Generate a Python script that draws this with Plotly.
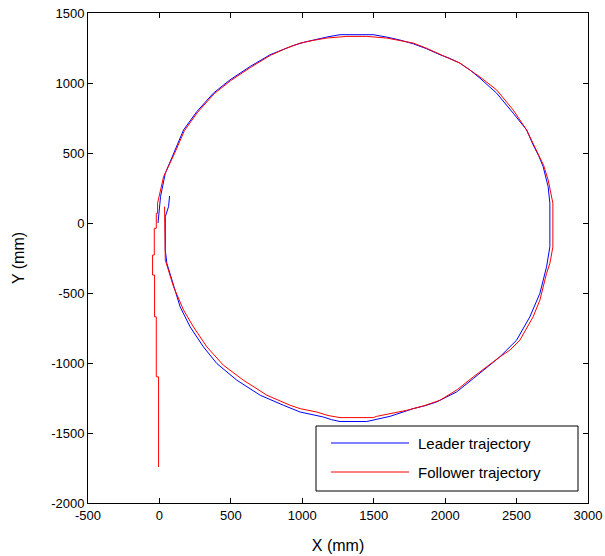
import plotly.graph_objects as go

# Leader trajectory (mm)
leader_x = [-10, 0, 8, 41, 99, 169, 262, 378, 495, 635, 775, 938, 1020, 1101, 1180, 1264, 1496,
            1591, 1680, 1777, 1870, 1964, 2035, 2103, 2175, 2243, 2360, 2476, 2570, 2616, 2655,
            2686, 2721, 2733, 2733, 2710, 2663, 2593, 2500, 2383, 2290, 2197, 2080, 1941, 1860,
            1777, 1614, 1497, 1451, 1264, 1205, 1148, 985, 868, 705, 542, 402, 308, 215, 145, 87,
            52, 41, 41, 64, 71]
leader_y = [0, 110, 190, 355, 499, 665, 796, 928, 1023, 1118, 1202, 1268, 1293, 1314, 1330, 1345,
            1345, 1328, 1308, 1280, 1245, 1202, 1175, 1142, 1092, 1035, 928, 785, 665, 558, 480,
            403, 260, 141, -170, -313, -503, -670, -837, -956, -1036, -1111, -1207, -1278, -1305,
            -1326, -1381, -1404, -1418, -1418, -1405, -1386, -1350, -1302, -1230, -1123, -1004,
            -885, -742, -599, -408, -288, -193, 45, 117, 193]

# Follower trajectory (mm)
follower_x = [-6, -6, -22, -22, -34, -34, -48, -48, -36, -36, -22, -22, -13, -13, 29, 105, 175,
              268, 384, 500, 640, 778, 880, 985, 1080, 1171, 1311, 1451, 1591, 1777, 1870, 1964,
              2035, 2103, 2180, 2255, 2360, 2418, 2476, 2570, 2628, 2660, 2690, 2721, 2745, 2754,
              2754, 2733, 2710, 2663, 2616, 2523, 2453, 2383, 2197, 2085, 1964, 1850, 1731, 1614,
              1521, 1497, 1264, 1180, 1101, 985, 915, 752, 588, 448, 332, 238, 169, 99, 52, 41, 36]
follower_y = [-1743, -1099, -1099, -670, -670, -372, -372, -229, -229, -38, -38, 69, 69, 141, 331,
              495, 660, 792, 924, 1018, 1113, 1198, 1245, 1285, 1305, 1321, 1333, 1333, 1321, 1285,
              1248, 1202, 1172, 1142, 1090, 1035, 951, 880, 808, 665, 546, 480, 410, 308, 165, 142,
              -172, -288, -360, -551, -670, -837, -908, -956, -1099, -1190, -1266, -1306, -1338,
              -1361, -1381, -1390, -1390, -1375, -1350, -1326, -1302, -1230, -1123, -1016, -885,
              -742, -622, -456, -313, -265, 117]

x_ticks = [-500, 0, 500, 1000, 1500, 2000, 2500, 3000]
y_ticks = [-2000, -1500, -1000, -500, 0, 500, 1000, 1500]
legend_names = ["Leader trajectory", "Follower trajectory"]

FONT = "Liberation Sans, Arial, sans-serif"

fig = go.Figure()
fig.add_trace(go.Scatter(x=leader_x, y=leader_y, mode="lines", name=legend_names[0],
                         line=dict(color="#0000ff", width=1), showlegend=False))
fig.add_trace(go.Scatter(x=follower_x, y=follower_y, mode="lines", name=legend_names[1],
                         line=dict(color="#ff0000", width=1), showlegend=False))

axis_common = dict(showgrid=False, zeroline=False, showline=True, linecolor="black",
                   linewidth=1, mirror="ticks", ticks="inside", ticklen=5, tickcolor="black",
                   automargin=False,
                   tickfont=dict(family=FONT, size=13, color="black"))

fig.update_layout(
    width=605, height=556,
    margin=dict(l=88, r=17, t=13, b=53, autoexpand=False),
    paper_bgcolor="white", plot_bgcolor="white",
    xaxis=dict(range=[-500, 3000], tickvals=x_ticks, ticktext=[str(v) for v in x_ticks],
               title=dict(text="X (mm)", font=dict(family=FONT, size=16, color="black"), standoff=18),
               **axis_common),
    yaxis=dict(range=[-2000, 1500], tickvals=y_ticks, ticktext=[str(v) for v in y_ticks],
               title=dict(text="Y (mm)", font=dict(family=FONT, size=16, color="black"), standoff=22),
               **axis_common),
)

# Legend box (MATLAB style)
def px2paper_x(px):
    return (px - 88) / 500.0

def px2paper_y(py):
    return (503 - py) / 490.0

shapes = [
    dict(type="rect", xref="paper", yref="paper", x0=px2paper_x(316), x1=px2paper_x(578),
         y0=px2paper_y(491), y1=px2paper_y(426), line=dict(color="black", width=1),
         fillcolor="white", layer="above"),
    dict(type="line", xref="paper", yref="paper", x0=px2paper_x(331), x1=px2paper_x(409),
         y0=px2paper_y(443), y1=px2paper_y(443), line=dict(color="#0000ff", width=1), layer="above"),
    dict(type="line", xref="paper", yref="paper", x0=px2paper_x(331), x1=px2paper_x(409),
         y0=px2paper_y(472), y1=px2paper_y(472), line=dict(color="#ff0000", width=1), layer="above"),
]
annotations = [
    dict(text=legend_names[0], xref="paper", yref="paper", x=px2paper_x(416), y=px2paper_y(443),
         xanchor="left", yanchor="middle", showarrow=False,
         font=dict(family=FONT, size=15, color="black")),
    dict(text=legend_names[1], xref="paper", yref="paper", x=px2paper_x(416), y=px2paper_y(472),
         xanchor="left", yanchor="middle", showarrow=False,
         font=dict(family=FONT, size=15, color="black")),
]
fig.update_layout(shapes=shapes, annotations=annotations)

fig.write_html("out.html")
